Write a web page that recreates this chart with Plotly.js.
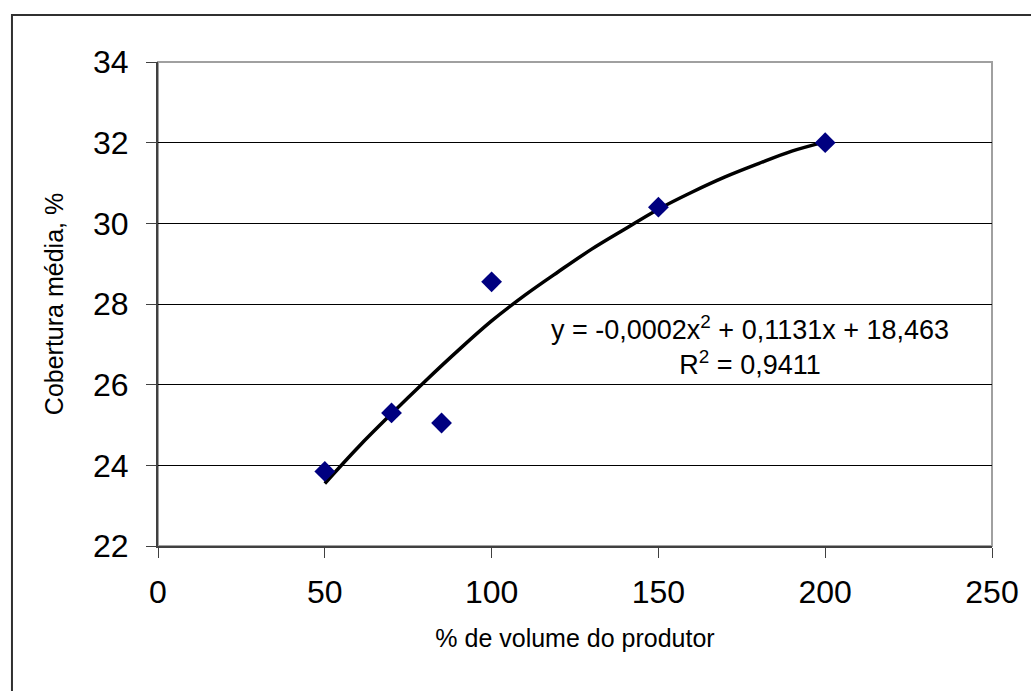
<!DOCTYPE html>
<html>
<head>
<meta charset="utf-8">
<script src="https://cdn.plot.ly/plotly-3.0.1.min.js"></script>
<style>html,body{margin:0;padding:0;background:#fff;}#chart{width:1031px;height:691px;}</style>
</head>
<body>
<div id="chart"></div>
<script>
// Observed data points
var volumePct = [50, 70, 85, 100, 150, 200];
var coberturaMedia = [23.85, 25.3, 25.05, 28.55, 30.4, 32.0];

// Trend line (polynomial order 2)
var trendX = [50, 60, 70, 80, 90, 100, 110, 120, 130, 140, 150, 160, 170, 180, 190, 200];
var trendY = [23.55, 24.45, 25.28, 26.08, 26.85, 27.58, 28.22, 28.80, 29.36, 29.86, 30.35, 30.77, 31.15, 31.48, 31.79, 32.02];

var xTicks = [0, 50, 100, 150, 200, 250];
var yTicks = [22, 24, 26, 28, 30, 32, 34];

var equationText = 'y = -0,0002x<sup>2</sup> + 0,1131x + 18,463<br>R<sup>2</sup> = 0,9411';
var xTitle = '% de volume do produtor';
var yTitle = 'Cobertura média, %';

var FONT = 'Liberation Sans, Arial, sans-serif';

var traces = [
  {
    x: trendX, y: trendY, type: 'scatter', mode: 'lines',
    line: {color: '#000000', width: 3.5, shape: 'spline'},
    hoverinfo: 'skip', showlegend: false
  },
  {
    x: volumePct, y: coberturaMedia, type: 'scatter', mode: 'markers',
    marker: {symbol: 'diamond', size: 16, color: '#000080', line: {width: 0}},
    showlegend: false
  }
];

var layout = {
  width: 1031, height: 691,
  margin: {l: 158, r: 39, t: 62, b: 145},
  paper_bgcolor: '#ffffff', plot_bgcolor: '#ffffff',
  font: {family: FONT, color: '#000000'},
  showlegend: false,
  xaxis: {
    range: [0, 250], tickvals: xTicks, ticktext: xTicks.map(String),
    showgrid: false, zeroline: false,
    showline: true, linecolor: '#404040', linewidth: 2,
    ticks: 'outside', ticklen: 10, tickwidth: 1, tickcolor: '#404040',
    tickfont: {size: 32, family: FONT, color: '#000'},
    ticklabelstandoff: 7,
    title: {text: xTitle, font: {size: 25, family: FONT, color: '#000'}, standoff: 20},
    automargin: false, fixedrange: true
  },
  yaxis: {
    range: [22, 34], tickvals: yTicks, ticktext: yTicks.map(String),
    showgrid: true, gridcolor: '#000000', gridwidth: 1,
    zeroline: false,
    showline: true, linecolor: '#404040', linewidth: 2,
    ticks: 'outside', ticklen: 10, tickwidth: 1, tickcolor: '#404040',
    tickfont: {size: 32, family: FONT, color: '#000'},
    ticklabelstandoff: 11,
    title: {text: yTitle, font: {size: 25, family: FONT, color: '#000'}, standoff: 22},
    automargin: false, fixedrange: true
  },
  shapes: [
    {type: 'rect', xref: 'paper', yref: 'paper', x0: 0, x1: 1, y0: 0, y1: 1,
     line: {color: '#a0a0a0', width: 2}, fillcolor: 'rgba(0,0,0,0)', layer: 'below'},
    {type: 'rect', xref: 'paper', yref: 'paper', x0: -0.1751, x1: 1.07, y0: -0.33, y1: 1.0971,
     line: {color: '#303030', width: 2}, fillcolor: 'rgba(0,0,0,0)'}
  ],
  annotations: [
    {x: 177.5, y: 26.98, xref: 'x', yref: 'y', text: equationText, showarrow: false,
     align: 'center', xanchor: 'center', yanchor: 'middle',
     font: {size: 27, family: FONT, color: '#000'}}
  ]
};

Plotly.newPlot('chart', traces, layout, {displayModeBar: false, staticPlot: true});
</script>
</body>
</html>
